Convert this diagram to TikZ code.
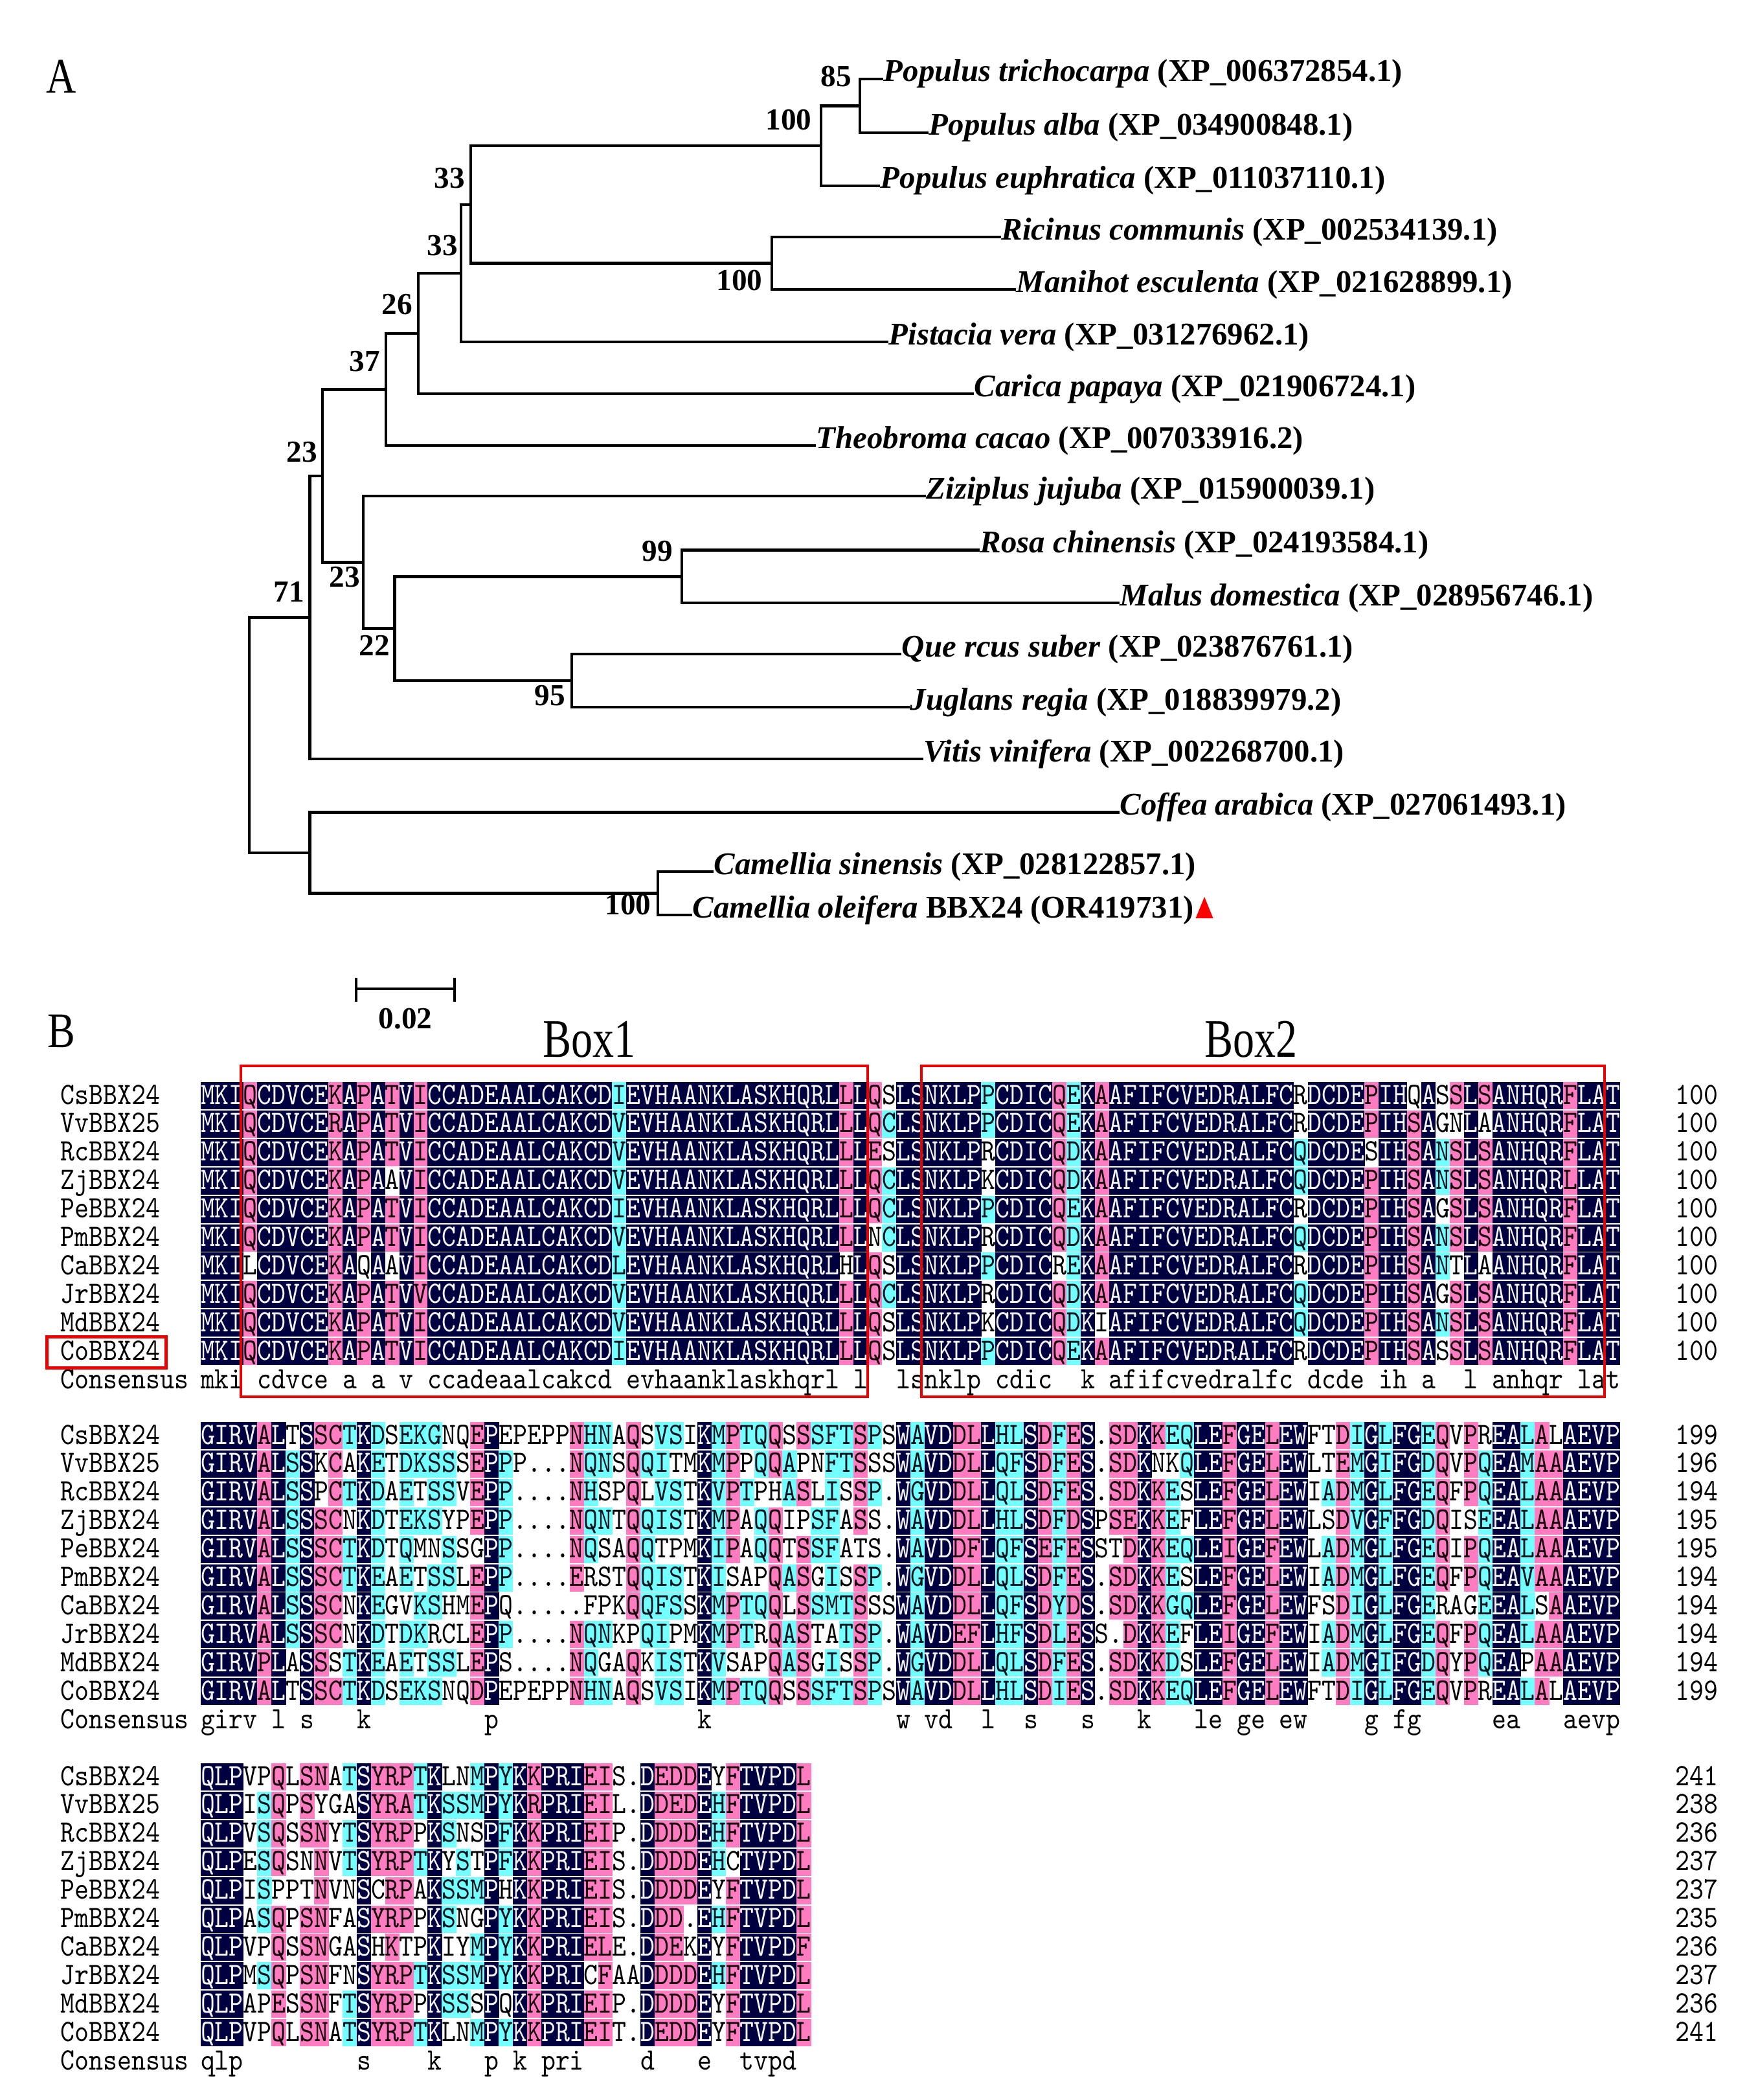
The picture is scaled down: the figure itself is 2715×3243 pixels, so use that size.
\documentclass[tikz,border=0pt]{standalone}
\usepackage{fontspec}
\usepackage{graphicx}
\setmainfont{Liberation Serif}

\definecolor{bgn}{RGB}{0,0,64}
\definecolor{bgp}{RGB}{255,124,192}
\definecolor{bgc}{RGB}{115,255,255}
\definecolor{fgn}{RGB}{245,245,250}
\definecolor{fgp}{RGB}{20,0,10}
\definecolor{fgc}{RGB}{0,20,30}
\definecolor{fgw}{RGB}{0,0,0}
\definecolor{boxred}{RGB}{235,0,0}

\tikzset{
  alchr/.style={anchor=base, inner sep=0pt, outer sep=0pt, font=\ttfamily\fontsize{10.44}{12}\selectfont},
  allab/.style={anchor=base west, inner sep=0pt, font=\ttfamily\fontsize{10.44}{12}\selectfont},
  alnum/.style={anchor=base east, inner sep=0pt, font=\ttfamily\fontsize{10.44}{12}\selectfont},
  branch/.style={line width=1.125pt, line cap=rect},
  taxon/.style={anchor=base west, inner sep=0pt, font=\fontsize{12.2}{14}\selectfont\bfseries},
  boot/.style={inner sep=0pt, font=\fontsize{11.8}{13}\selectfont\bfseries},
  redbox/.style={draw=boxred, line width=1pt},
  panel/.style={inner sep=0pt, font=\fontsize{16}{18}\selectfont},
}

\newcommand\alcell[4]{%
  \if w#3\else
    \fill[bg#3] (#1-11.2,#2-21) rectangle (#1+11.2,#2+21);%
  \fi
  \node[alchr,text=fg#3] at (#1,#2+13) {\scalebox{1}[1.15]{#4}};%
}
\newcommand\alcons[3]{%
  \node[alchr,text=black] at (#1,#2+13) {\scalebox{1}[1.15]{#3}};%
}

\ExplSyntaxOn
\seq_new:N \l_al_cols_seq
\seq_new:N \l_al_rows_seq
\str_new:N \l_al_row_str
\tl_new:N \l_al_spec_tl
\tl_new:N \l_al_code_tl
\tl_new:N \l_al_res_tl
\cs_new_protected:Npn \al_rep:w #1 * #2 \q_stop
  { \prg_replicate:nn {#2} { \seq_put_right:Nn \l_al_cols_seq {#1} } }
\NewDocumentCommand \alblock { m m m }
  {
    \seq_clear:N \l_al_cols_seq
    \clist_map_inline:nn {#2}
      {
        \tl_if_in:nnTF {##1} {*}
          { \al_rep:w ##1 \q_stop }
          { \seq_put_right:Nn \l_al_cols_seq {##1} }
      }
    \seq_clear:N \l_al_rows_seq
    \clist_map_inline:nn {#3}
      {
        \str_set:Nn \l_al_row_str {##1}
        \str_replace_all:Nnn \l_al_row_str {~} {}
        \seq_put_right:NV \l_al_rows_seq \l_al_row_str
      }
    \int_step_variable:nNn { \seq_count:N \l_al_cols_seq } \l_al_j_tl
      {
        \tl_set:Nx \l_al_spec_tl { \seq_item:Nn \l_al_cols_seq { \l_al_j_tl } }
        \int_step_variable:nNn { 10 } \l_al_r_tl
          {
            \int_compare:nNnTF { \tl_count:N \l_al_spec_tl } = { 1 }
              { \tl_set_eq:NN \l_al_code_tl \l_al_spec_tl }
              { \tl_set:Nx \l_al_code_tl { \tl_item:Nn \l_al_spec_tl { \l_al_r_tl } } }
            \str_set:Nx \l_al_row_str { \seq_item:Nn \l_al_rows_seq { \l_al_r_tl } }
            \tl_set:Nx \l_al_res_tl { \str_item:Nn \l_al_row_str { \l_al_j_tl } }
            \use:x
              {
                \exp_not:N \alcell
                  { \fp_eval:n { 310 + (\l_al_j_tl - 0.5) * 21.92 } }
                  { \fp_eval:n { #1 + (\l_al_r_tl - 1) * 43.9 } }
                  { \l_al_code_tl }
                  { \l_al_res_tl }
              }
          }
        \str_if_eq:VnT \l_al_spec_tl { n }
          {
            \str_set:Nx \l_al_row_str { \seq_item:Nn \l_al_rows_seq { 1 } }
            \tl_set:Nx \l_al_res_tl { \str_lowercase:f { \str_item:Nn \l_al_row_str { \l_al_j_tl } } }
            \use:x
              {
                \exp_not:N \alcons
                  { \fp_eval:n { 310 + (\l_al_j_tl - 0.5) * 21.92 } }
                  { \fp_eval:n { #1 + 10 * 43.9 } }
                  { \l_al_res_tl }
              }
          }
      }
  }
\ExplSyntaxOff

\begin{document}
\begin{tikzpicture}[x=0.25pt,y=-0.25pt]
\fill[white] (0,0) rectangle (2715,3243);
\path[use as bounding box] (0,0) rectangle (2715,3243);

% ---------------- Panel A: tree ----------------
\node[panel] (labA) at (95,118) {\scalebox{1}[1.2]{A}};

\draw[branch] (1362,122) -- (1328,122) -- (1328,205) -- (1432,205);
\draw[branch] (1328,163.5) -- (1268,163.5) -- (1268,287) -- (1357,287);
\draw[branch] (1544,366) -- (1192,366) -- (1192,447) -- (1567,447);
\draw[branch] (1268,225.25) -- (727,225.25) -- (727,406.5) -- (1192,406.5);
\draw[branch] (727,315.9) -- (712,315.9) -- (712,528) -- (1370,528);
\draw[branch] (712,421.9) -- (646,421.9) -- (646,608) -- (1502,608);
\draw[branch] (646,515) -- (596,515) -- (596,688) -- (1258,688);
\draw[branch] (1511,849.5) -- (1053,849.5) -- (1053,931) -- (1727,931);
\draw[branch] (1390,1010) -- (883,1010) -- (883,1092) -- (1403,1092);
\draw[branch] (1053,890.25) -- (609.5,890.25) -- (609.5,1051) -- (883,1051);
\draw[branch] (1428,766) -- (561,766) -- (561,970.6) -- (609.5,970.6);
\draw[branch] (596,601.5) -- (498,601.5) -- (498,868.3) -- (561,868.3);
\draw[branch] (498,734.9) -- (478.5,734.9) -- (478.5,1172) -- (1424,1172);
\draw[branch] (1100,1346) -- (1016,1346) -- (1016,1413) -- (1067,1413);
\draw[branch] (1727,1254.6) -- (478.5,1254.6) -- (478.5,1379.5) -- (1016,1379.5);
\draw[branch] (478.5,953.45) -- (385,953.45) -- (385,1317) -- (478.5,1317);

\node[taxon] (t1) at (1364,126) {\textit{Populus trichocarpa} (XP\_006372854.1)};
\node[taxon] (t2) at (1434,209) {\textit{Populus alba} (XP\_034900848.1)};
\node[taxon] (t3) at (1359,291) {\textit{Populus euphratica} (XP\_011037110.1)};
\node[taxon] (t4) at (1546,370) {\textit{Ricinus communis} (XP\_002534139.1)};
\node[taxon] (t5) at (1569,451) {\textit{Manihot esculenta} (XP\_021628899.1)};
\node[taxon] (t6) at (1372,532) {\textit{Pistacia vera} (XP\_031276962.1)};
\node[taxon] (t7) at (1504,612) {\textit{Carica papaya} (XP\_021906724.1)};
\node[taxon] (t8) at (1260,692) {\textit{Theobroma cacao} (XP\_007033916.2)};
\node[taxon] (t9) at (1430,770) {\textit{Ziziplus jujuba} (XP\_015900039.1)};
\node[taxon] (t10) at (1513,853) {\textit{Rosa chinensis} (XP\_024193584.1)};
\node[taxon] (t11) at (1729,935) {\textit{Malus domestica} (XP\_028956746.1)};
\node[taxon] (t12) at (1392,1014) {\textit{Que rcus suber} (XP\_023876761.1)};
\node[taxon] (t13) at (1405,1096) {\textit{Juglans regia} (XP\_018839979.2)};
\node[taxon] (t14) at (1426,1176) {\textit{Vitis vinifera} (XP\_002268700.1)};
\node[taxon] (t15) at (1729,1258) {\textit{Coffea arabica} (XP\_027061493.1)};
\node[taxon] (t16) at (1102,1350) {\textit{Camellia sinensis} (XP\_028122857.1)};
\node[taxon] (t17) at (1069,1417) {\textit{Camellia oleifera} BBX24 (OR419731)};
\fill[red] (t17.base east) ++(2,1) -- ++(27,0) -- ++(-13.5,-33) -- cycle;

\node[boot] (b1) at (1291,118) {85};
\node[boot] (b2) at (1218,185) {100};
\node[boot] (b3) at (694,275) {33};
\node[boot] (b4) at (683,379) {33};
\node[boot] (b5) at (1142,433) {100};
\node[boot] (b6) at (613,470) {26};
\node[boot] (b7) at (563,558) {37};
\node[boot] (b8) at (466,698) {23};
\node[boot] (b9) at (532,891) {23};
\node[boot] (b10) at (446,914) {71};
\node[boot] (b11) at (1015,851) {99};
\node[boot] (b12) at (578,997) {22};
\node[boot] (b13) at (849,1074) {95};
\node[boot] (b14) at (970,1397) {100};

\coordinate (sbL) at (550,1527);
\coordinate (sbR) at (702,1527);
\draw[branch] (sbL) -- (sbR);
\draw[branch] (550,1512) -- (550,1545);
\draw[branch] (702,1512) -- (702,1545);
\node[boot] (sbl) at (626,1573) {0.02};

% ---------------- Panel B: alignment ----------------
\node[panel] (labB) at (95,1592) {\scalebox{1}[1.2]{B}};
\node[inner sep=0pt,font=\fontsize{16.5}{18}\selectfont] (box1lab) at (910,1605) {\scalebox{1}[1.27]{Box1}};
\node[inner sep=0pt,font=\fontsize{16.5}{18}\selectfont] (box2lab) at (1932,1605) {\scalebox{1}[1.27]{Box2}};

% Block 1
\alblock{1692}{n*3,ppppppwppp,n*5,p,n,ppppppwppp,n,pppwppwppp,n,p,n*13,c,n*15,ppppppwppp,n,pppppwpppp,wcwcccwcww,n*6,ccwwcwcwwc,n*4,ppppppwppp,c,n,ppppppppwp,n*13,wwccwcwccw,n*4,ppwppppppp,n*2,wppppppppp,n,wwccwccwcw,pwppppwppp,n,pwppppwppp,n*5,p,n*3}{
MKIQCDVCEK APATVICCAD EAALCAKCDI EVHAANKLAS KHQRLLLQSL SNKLPPCDIC QEKAAFIFCV EDRALFCRDC DEPIHQASSL SANHQRFLAT,
MKIQCDVCER APATVICCAD EAALCAKCDV EVHAANKLAS KHQRLLLQCL SNKLPPCDIC QEKAAFIFCV EDRALFCRDC DEPIHSAGNL AANHQRFLAT,
MKIQCDVCEK APATVICCAD EAALCAKCDV EVHAANKLAS KHQRLLLESL SNKLPRCDIC QDKAAFIFCV EDRALFCQDC DESIHSANSL SANHQRFLAT,
MKIQCDVCEK APAAVICCAD EAALCAKCDV EVHAANKLAS KHQRLLLQCL SNKLPKCDIC QDKAAFIFCV EDRALFCQDC DEPIHSANSL SANHQRLLAT,
MKIQCDVCEK APATVICCAD EAALCAKCDI EVHAANKLAS KHQRLLLQCL SNKLPPCDIC QEKAAFIFCV EDRALFCRDC DEPIHSAGSL SANHQRFLAT,
MKIQCDVCEK APATVICCAD EAALCAKCDV EVHAANKLAS KHQRLLLNCL SNKLPRCDIC QDKAAFIFCV EDRALFCQDC DEPIHSANSL SANHQRFLAT,
MKILCDVCEK AQAAVICCAD EAALCAKCDL EVHAANKLAS KHQRLHLQSL SNKLPPCDIC REKAAFIFCV EDRALFCRDC DEPIHSANTL AANHQRFLAT,
MKIQCDVCEK APATVVCCAD EAALCAKCDV EVHAANKLAS KHQRLLLQCL SNKLPRCDIC QDKAAFIFCV EDRALFCQDC DEPIHSAGSL SANHQRFLAT,
MKIQCDVCEK APATVICCAD EAALCAKCDV EVHAANKLAS KHQRLLLQSL SNKLPKCDIC QDKIAFIFCV EDRALFCQDC DEPIHSANSL SANHQRFLAT,
MKIQCDVCEK APATVICCAD EAALCAKCDI EVHAANKLAS KHQRLLLQSL SNKLPPCDIC QEKAAFIFCV EDRALFCRDC DEPIHSASSL SANHQRFLAT}

% Block 2
\alblock{2217}{n*4,p,n,wcccccccww,n,pwwppppppp,ppppppppwp,cwcwccwwcc,n,c,w,ccccccwccc,ccwcwwccwc,ccccwccwcc,wccwccwwcw,w,ppppwppppp,n,wcccccwcww,w*4,ppppppwppp,cccccwwccc,ccwcwwwcwc,w,pppppppwpp,wcwcccccww,ccccwccccc,cwccwccwcc,w,n,c,pppppwppwp,cwcwwwccwc,ccwccwcwwc,ppwppppppp,wccwwcwccw,pwpwpppppp,cwwccwcwwc,cccccccwcc,ccwwwwccwc,ppppwppppp,cwcwwcwccc,w,n,c,n*2,p*2,n,c*2,n,p,c,p,n,w,ppppwppwpp,p,n,pwpppppppp,cwcccccccc,ccwwcwcwwc,n*2,p,n*2,p,n*2,w,wwcwccwccw,p,c,n,c,n*2,c,ppppppwppp,w,pppwppwppp,wccccccccw,n*2,ccccccccwc,ppppppwppp,wppppppppw,n*4}{
GIRVALTSSC TKDSEKGNQE PEPEPPNHNA QSVSIKMPTQ QSSSFTSPSW AVDDLLHLSD FES.SDKKEQ LEFGELEWFT DIGLFGEQVP REALALAEVP,
GIRVALSSKC AKETDKSSSE PPP...NQNS QQITMKMPPQ QAPNFTSSSW AVDDLLQFSD FES.SDKNKQ LEFGELEWLT EMGIFGDQVP QEAMAAAEVP,
GIRVALSSPC TKDAETSSVE PP....NHSP QLVSTKVPTP HASLISSP.W GVDDLLQLSD FES.SDKKES LEFGELEWIA DMGLFGEQFP QEALAAAEVP,
GIRVALSSSC NKDTEKSYPE PP....NQNT QQISTKMPAQ QIPSFASS.W AVDDLLHLSD FDSPSEKKEF LEFGELEWLS DVGFFGDQIS EEALAAAEVP,
GIRVALSSSC TKDTQMNSSG PP....NQSA QQTPMKIPAQ QTSSFATS.W AVDDFLQFSE FESSTDKKEQ LEIGEFEWLA DMGLFGEQIP QEALAAAEVP,
GIRVALSSSC TKEAETSSLE PP....ERST QQISTKISAP QASGISSP.W GVDDLLQLSD FES.SDKKES LEFGELEWIA DMGLFGEQFP QEAVAAAEVP,
GIRVALSSSC NKEGVKSHME PQ.....FPK QQFSSKMPTQ QLSSMTSSSW AVDDLLQFSD YDS.SDKKGQ LEFGELEWFS DIGLFGERAG EEALSAAEVP,
GIRVALSSSC NKDTDKRCLE PP....NQNK PQIPMKMPTR QASTATSP.W AVDEFLHFSD LESS.DKKEF LEIGEFEWIA DMGLFGEQFP QEALAAAEVP,
GIRVPLASSS TKEAETSSLE PS....NQGA QKISTKVSAP QASGISSP.W GVDDLLQLSD FES.SDKKDS LEFGELEWIA DMGIFGDQYP QEAPAAAEVP,
GIRVALTSSC TKDSEKSNQD PEPEPPNHNA QSVSIKMPTQ QSSSFTSPSW AVDDLLHLSD IES.SDKKEQ LEFGELEWFT DIGLFGEQVP REALALAEVP}

% Block 3
\alblock{2744}{n*3,w,wcccccwcww,ppppwppppp,w,pppwwppppp,pwpppppppp,w,cwccwwwwcc,n,ppppwpwppp,p,ppppppwppp,ccwcwwwcwc,n,wccwccwccw,wcwccwwccw,ccwwcwccwc,n,ccccwcccwc,n,p,n*3,pppppppwpp,p,w,w,n,p,p,pppppwwppp,n,wcccwcwcww,pppwpppppp,n*4,p}{
QLPVPQLSNA TSYRPTKLNM PYKKPRIEIS .DEDDEYFTV PDL,
QLPISQPSYG ASYRATKSSM PYKRPRIEIL .DDEDEHFTV PDL,
QLPVSQSSNY TSYRPPKSNS PFKKPRIEIP .DDDDEHFTV PDL,
QLPESQSNNV TSYRPTKYST PFKKPRIEIS .DDDDEHCTV PDL,
QLPISPPTNV NSCRPAKSSM PHKKPRIEIS .DDDDEYFTV PDL,
QLPASQPSNF ASYRPPKSNG PYKKPRIEIS .DDD.EHFTV PDL,
QLPVPQSSNG ASHKTPKIYM PYKKPRIELE .DDEKEYFTV PDF,
QLPMSQPSNF NSYRPTKSSM PYKKPRICFA ADDDDEHFTV PDL,
QLPAPESSNF TSYRPPKSSS PQKKPRIEIP .DDDDEYFTV PDL,
QLPVPQLSNA TSYRPTKLNM PYKKPRIEIT .DEDDEYFTV PDL}

% names and counts
\foreach \nm [count=\i] in {CsBBX24,VvBBX25,RcBBX24,ZjBBX24,PeBBX24,PmBBX24,CaBBX24,JrBBX24,MdBBX24,CoBBX24} {
  \node[allab] (nA\i) at (93,{1692+(\i-1)*43.9+13}) {\scalebox{1}[1.15]{\nm}};
  \node[allab] (nB\i) at (93,{2217+(\i-1)*43.9+13}) {\scalebox{1}[1.15]{\nm}};
  \node[allab] (nC\i) at (93,{2744+(\i-1)*43.9+13}) {\scalebox{1}[1.15]{\nm}};
}
\node[allab] (consA) at (93,{1692+439+13}) {\scalebox{1}[1.15]{Consensus}};
\node[allab] (consB) at (93,{2217+439+13}) {\scalebox{1}[1.15]{Consensus}};
\node[allab] (consC) at (93,{2744+439+13}) {\scalebox{1}[1.15]{Consensus}};
\foreach \v [count=\i] in {100,100,100,100,100,100,100,100,100,100}
  \node[alnum] (mA\i) at (2654,{1692+(\i-1)*43.9+13}) {\scalebox{1}[1.15]{\v}};
\foreach \v [count=\i] in {199,196,194,195,195,194,194,194,194,199}
  \node[alnum] (mB\i) at (2654,{2217+(\i-1)*43.9+13}) {\scalebox{1}[1.15]{\v}};
\foreach \v [count=\i] in {241,238,236,237,237,235,236,237,236,241}
  \node[alnum] (mC\i) at (2654,{2744+(\i-1)*43.9+13}) {\scalebox{1}[1.15]{\v}};

% red boxes
\draw[redbox] (372,1646) rectangle (1340,2157);
\draw[redbox] (1423,1646) rectangle (2478,2157);
\draw[boxred, line width=1.25pt] (72,2064) rectangle (256,2112);
\end{tikzpicture}
\end{document}
